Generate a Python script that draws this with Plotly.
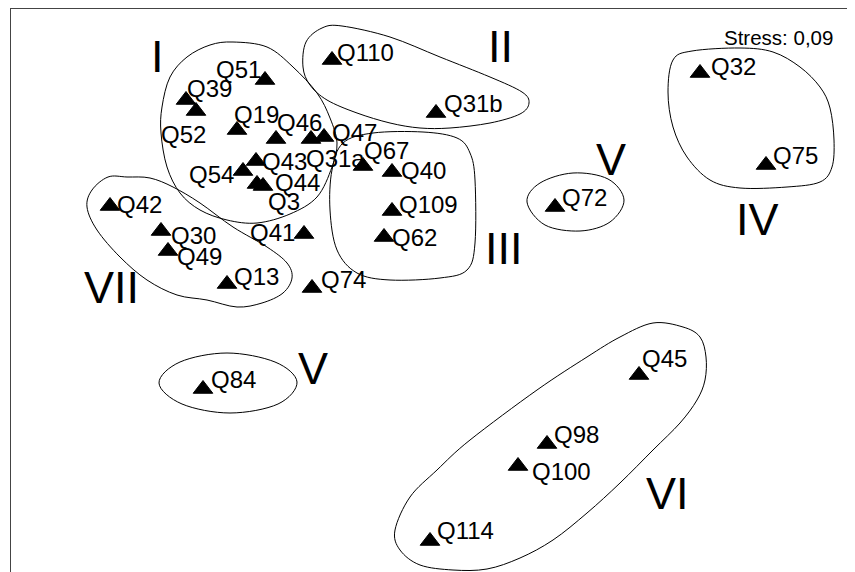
import plotly.graph_objects as go

# MDS configuration (dimension 1 / dimension 2), stress 0,09
labels = ["Q110", "Q51", "Q39", "Q52", "Q19", "Q46", "Q31a", "Q47", "Q43", "Q54",
          "Q44", "Q3", "Q42", "Q30", "Q49", "Q41", "Q13", "Q74", "Q67", "Q40",
          "Q109", "Q62", "Q31b", "Q32", "Q75", "Q72", "Q84", "Q45", "Q98", "Q100",
          "Q114"]
dim1 = [-0.98, -1.65, -2.44, -2.34, -1.93, -1.54, -1.19, -1.06, -1.74, -1.87,
        -1.67, -1.73, -3.20, -2.69, -2.62, -1.26, -2.03, -1.18, -0.67, -0.38,
        -0.38, -0.46, 0.06, 2.70, 3.36, 1.25, -2.27, 2.09, 1.17, 0.88,
        0.00]
dim2 = [2.40, 2.20, 2.00, 1.89, 1.70, 1.61, 1.61, 1.63, 1.39, 1.29,
        1.14, 1.16, 0.94, 0.69, 0.49, 0.66, 0.16, 0.12, 1.34, 1.28,
        0.89, 0.63, 1.87, 2.27, 1.35, 0.93, -0.89, -0.75, -1.44, -1.66,
        -2.41]

# group names and where they are written
group_names = ["I", "II", "III", "IV", "V", "V", "VI", "VII"]
group_x = [-2.73, 0.70, 0.74, 3.275, 1.81, -1.17, 2.37, -3.19]
group_y = [2.44, 2.54, 0.52, 0.81, 1.41, -0.685, -1.935, 0.13]

# hand drawn outlines round the groups
outlines = {
    "I": [(-1.97, 2.58), (-1.63, 2.53), (-1.37, 2.33), (-1.13, 2.07), (-1.00, 1.82),
          (-0.93, 1.57), (-0.98, 1.33), (-1.13, 1.03), (-1.40, 0.86), (-1.73, 0.77),
          (-2.03, 0.80), (-2.30, 0.90), (-2.50, 1.07), (-2.63, 1.33), (-2.69, 1.67),
          (-2.68, 1.93), (-2.60, 2.23), (-2.43, 2.43), (-2.20, 2.55)],
    "II": [(-1.27, 2.33), (-1.24, 2.58), (-1.08, 2.72), (-0.88, 2.74), (-0.40, 2.63),
           (0.10, 2.43), (0.60, 2.23), (0.92, 2.08), (0.99, 1.97), (0.90, 1.86),
           (0.60, 1.77), (0.20, 1.72), (-0.10, 1.72), (-0.40, 1.77), (-0.73, 1.87),
           (-1.03, 2.00), (-1.20, 2.15)],
    "III": [(-0.87, 1.57), (-0.57, 1.67), (-0.07, 1.68), (0.27, 1.62), (0.40, 1.47),
            (0.45, 1.20), (0.45, 0.57), (0.37, 0.30), (0.10, 0.22), (-0.40, 0.20),
            (-0.73, 0.27), (-0.93, 0.50), (-1.00, 0.90), (-0.98, 1.30)],
    "IV": [(2.43, 2.40), (2.62, 2.49), (3.10, 2.52), (3.43, 2.48), (3.70, 2.33),
           (3.90, 2.13), (4.00, 1.92), (4.04, 1.60), (4.02, 1.33), (3.90, 1.18),
           (3.57, 1.13), (3.10, 1.12), (2.80, 1.20), (2.57, 1.43), (2.43, 1.73),
           (2.38, 2.08)],
    "V": [(0.97, 0.98), (1.10, 1.17), (1.43, 1.27), (1.78, 1.21), (1.94, 1.00),
          (1.80, 0.78), (1.50, 0.69), (1.15, 0.75)],
    "V2": [(-2.71, -0.83), (-2.50, -0.62), (-2.03, -0.53), (-1.55, -0.62), (-1.33, -0.82),
           (-1.52, -1.04), (-2.00, -1.13), (-2.48, -1.04)],
    "VI": [(2.23, -0.23), (2.53, -0.27), (2.70, -0.37), (2.76, -0.57), (2.75, -0.80),
           (2.67, -1.00), (2.50, -1.23), (2.23, -1.50), (1.90, -1.83), (1.57, -2.13),
           (1.23, -2.40), (0.90, -2.58), (0.57, -2.69), (0.23, -2.70), (-0.10, -2.65),
           (-0.30, -2.50), (-0.35, -2.30), (-0.20, -1.97), (0.07, -1.70), (0.40, -1.40),
           (1.07, -0.90), (1.57, -0.57), (1.90, -0.37)],
    "VII": [(-3.03, 1.23), (-3.22, 1.23), (-3.38, 1.10), (-3.43, 0.93), (-3.33, 0.70),
            (-3.10, 0.43), (-2.83, 0.20), (-2.53, 0.05), (-2.23, 0.00), (-1.93, -0.07),
            (-1.68, -0.03), (-1.47, 0.07), (-1.38, 0.22), (-1.43, 0.37), (-1.63, 0.53),
            (-1.97, 0.73), (-2.30, 0.97), (-2.57, 1.13), (-2.80, 1.22)],
}

# label placement next to each triangle: anchor, xshift, yshift (px)
label_pos = {
    "Q110": ("left", 3, 8), "Q51": ("right", -2, 11), "Q39": ("left", -1, 12),
    "Q52": ("right", 12, -23), "Q19": ("left", -5, 16), "Q46": ("left", -1, 17),
    "Q31a": ("left", -7, -19), "Q47": ("left", 6, 5), "Q43": ("left", 4, 0),
    "Q54": ("right", -7, -3), "Q44": ("left", 10, 4), "Q3": ("left", 9, -17),
    "Q42": ("left", 5, 2), "Q30": ("left", 8, -4), "Q49": ("left", 7, -5),
    "Q41": ("right", -7, 2), "Q13": ("left", 5, 8), "Q74": ("left", 7, 9),
    "Q67": ("left", -1, 16), "Q40": ("left", 7, 2), "Q109": ("left", 5, 7),
    "Q62": ("left", 6, 0), "Q31b": ("left", 6, 10), "Q32": ("left", 9, 7),
    "Q75": ("left", 5, 10), "Q72": ("left", 5, 10), "Q84": ("left", 6, 10),
    "Q45": ("left", 1, 17), "Q98": ("left", 5, 10), "Q100": ("left", 12, -5),
    "Q114": ("left", 5, 11),
}

FONT = "Liberation Sans, Arial, sans-serif"


def closed_curve(pts):
    # catmull-rom through the points, as a closed bezier path
    n = len(pts)
    path = "M %.3f,%.3f" % pts[0]
    for i in range(n):
        p0 = pts[(i - 1) % n]
        p1 = pts[i]
        p2 = pts[(i + 1) % n]
        p3 = pts[(i + 2) % n]
        c1 = (p1[0] + (p2[0] - p0[0]) / 6, p1[1] + (p2[1] - p0[1]) / 6)
        c2 = (p2[0] - (p3[0] - p1[0]) / 6, p2[1] - (p3[1] - p1[1]) / 6)
        path += " C %.3f,%.3f %.3f,%.3f %.3f,%.3f" % (c1 + c2 + p2)
    return path + " Z"


fig = go.Figure()

fig.add_trace(go.Scatter(
    x=dim1, y=dim2, mode="markers", text=labels, hoverinfo="text",
    marker=dict(symbol="triangle-up", size=17, color="black",
                line=dict(color="black", width=1)),
    showlegend=False,
))

shapes = []
for name, pts in outlines.items():
    shapes.append(dict(type="path", xref="x", yref="y", path=closed_curve(pts),
                       line=dict(color="black", width=1), fillcolor="rgba(0,0,0,0)"))

annotations = []
for lab, x, y in zip(labels, dim1, dim2):
    anchor, xs, ys = label_pos[lab]
    annotations.append(dict(x=x, y=y, text=lab, showarrow=False, xanchor=anchor,
                            yanchor="middle", xshift=xs, yshift=ys,
                            font=dict(family=FONT, size=24, color="black")))

for name, x, y in zip(group_names, group_x, group_y):
    annotations.append(dict(x=x, y=y, text=name, showarrow=False, xanchor="center",
                            yanchor="middle",
                            font=dict(family=FONT, size=45, color="black")))

annotations.append(dict(x=4.05, y=2.625, text="Stress: 0,09", showarrow=False,
                        xanchor="right", yanchor="middle",
                        font=dict(family=FONT, size=20.5, color="black")))

# the page body adds 8px round the figure, so the figure is 8px smaller
fig.update_layout(
    width=847, height=564,
    margin=dict(l=3, r=0, t=1, b=0),
    paper_bgcolor="white", plot_bgcolor="white",
    shapes=shapes, annotations=annotations,
    xaxis=dict(range=[-4.19, 4.25], side="top", showline=True, linecolor="#444",
               linewidth=1, showgrid=False, zeroline=False, showticklabels=False,
               ticks=""),
    yaxis=dict(range=[-2.72, 2.91], showline=True, linecolor="#444", linewidth=1,
               showgrid=False, zeroline=False, showticklabels=False, ticks=""),
)

fig.write_html("out.html")
